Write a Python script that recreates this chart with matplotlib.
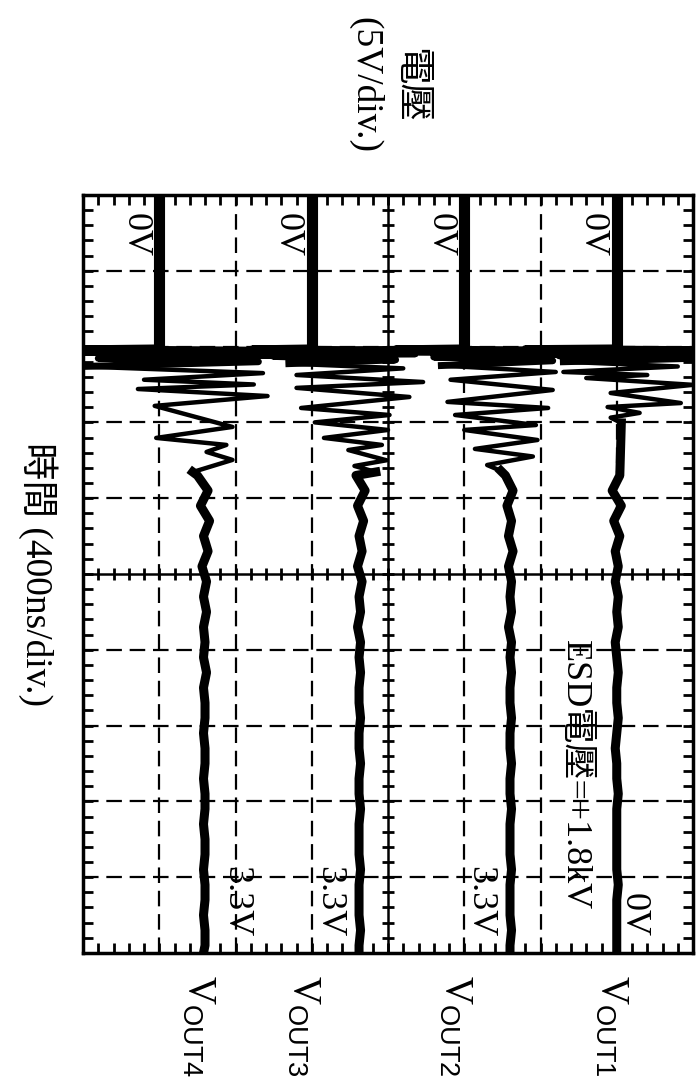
import numpy as np
import matplotlib.pyplot as plt
import matplotlib.transforms as mtransforms
from matplotlib.ticker import MultipleLocator

plt.rcParams['font.family'] = ['Liberation Serif', 'Noto Sans CJK TC']
plt.rcParams['mathtext.fontset'] = 'custom'
plt.rcParams['mathtext.rm'] = 'Liberation Serif'
plt.rcParams['mathtext.sf'] = 'Liberation Sans'

# scope: 5 V/div (8 div), 400 ns/div (10 div); screen drawn rotated 90 deg
volt_div = 5
time_div = 400

channels = ['OUT1', 'OUT2', 'OUT3', 'OUT4']
zero_level = [15, 5, -5, -15]          # screen position of each channel's 0 V
end_labels = ['0V', '3.3V', '3.3V', '3.3V']
trigger_t = 807

# ringing right after the ESD zap (t in ns, v in V relative to channel 0 V)
ring_t1 = [807, 811, 816, 824, 835, 848, 862, 880, 905, 934, 950, 966, 1002,
           1045, 1098, 1119, 1150, 1175, 1203]
ring_v1 = [0, -6.0, 5.0, -5.5, 5.0, -3.8, 5.0, -3.5, 4.0, -3.5, 2.0, -2.0, 5.0,
           -0.4, 4.2, -0.6, 1.5, -0.4, 0.3]

ring_t2 = [807, 812, 819, 828, 840, 855, 875, 900, 934, 975, 1029, 1092, 1124,
           1161, 1214, 1240, 1293, 1340, 1380, 1425, 1456]
ring_v2 = [0, -4.5, 6.5, -3.0, 6.2, -2.0, 5.8, -1.5, 6.0, -0.9, 5.8, -1.1, 5.5,
           -0.6, 4.7, 0.0, 4.8, 0.7, 4.5, 1.5, 2.4]

ring_t3 = [807, 812, 818, 826, 838, 852, 870, 890, 915, 950, 987, 1018, 1066,
           1124, 1161, 1200, 1240, 1282, 1319, 1346, 1400, 1430, 1462]
ring_v3 = [0, -3.9, 5.2, -3.0, 6.8, -2.5, 5.5, -1.5, 6.0, -1.0, 7.3, -1.0, 6.4,
           -0.7, 5.1, 0.2, 5.0, 0.8, 4.6, 2.4, 4.9, 2.8, 4.2]

ring_t4 = [807, 812, 820, 830, 845, 862, 880, 905, 940, 975, 1000, 1024, 1061,
           1113, 1224, 1282, 1319, 1356, 1398, 1462]
ring_v4 = [0, -5.2, 7.8, -5.0, 7.7, -4.0, 6.5, -5.1, 6.8, -1.0, 6.2, -1.4, 7.1,
           -0.3, 4.8, -0.2, 4.4, 3.1, 4.8, 2.2]

# settled part
steady_t = [1480, 1560, 1640, 1720, 1800, 1880, 1960, 2040, 2120, 2200, 2280,
            2360, 2440, 2520, 2600, 2680, 2760, 2840, 2920, 3000, 3080, 3160,
            3240, 3320, 3400, 3480, 3560, 3640, 3720, 3800, 3880, 3960, 4000]
steady_v1 = [0.2, -0.3, 0.3, -0.2, 0.2, -0.1, 0.1, -0.1, 0.1, 0.0, 0.1,
             -0.1, 0.0, 0.1, 0.0, 0.0, 0.1, 0.0, -0.1, 0.0, 0.0, 0.1,
             0.0, 0.0, 0.0, 0.0, 0.0, 0.1, 0.0, 0.0, 0.0, 0.0, 0.0]
steady_v2 = [2.7, 3.2, 2.8, 3.1, 2.9, 3.2, 2.9, 3.1, 3.0, 3.1, 2.9,
             3.1, 3.0, 3.1, 3.0, 3.0, 3.1, 3.0, 3.0, 3.1, 3.0, 3.0,
             3.1, 3.0, 3.0, 3.0, 3.1, 3.0, 3.0, 3.0, 3.1, 3.0, 3.0]
steady_v3 = [2.9, 3.5, 3.0, 3.4, 3.1, 3.3, 3.0, 3.3, 3.1, 3.2, 3.0,
             3.2, 3.1, 3.2, 3.1, 3.1, 3.2, 3.1, 3.1, 3.2, 3.1, 3.1,
             3.2, 3.1, 3.1, 3.1, 3.2, 3.1, 3.1, 3.1, 3.2, 3.1, 3.1]
steady_v4 = [2.5, 3.2, 2.7, 3.3, 2.9, 3.2, 2.8, 3.1, 2.9, 3.1, 2.9,
             3.0, 2.9, 3.1, 2.9, 3.0, 3.0, 2.9, 3.0, 3.0, 2.9, 3.0,
             3.0, 2.9, 3.0, 3.0, 2.9, 3.0, 3.0, 2.9, 3.0, 3.0, 2.9]

ring_t = [ring_t1, ring_t2, ring_t3, ring_t4]
ring_v = [ring_v1, ring_v2, ring_v3, ring_v4]
steady_v = [steady_v1, steady_v2, steady_v3, steady_v4]

fig = plt.figure(figsize=(7, 10.88), dpi=100)
ax = fig.add_axes([0.1186, 0.1241, 0.8714, 0.6967])
ax.set_xlim(-4 * volt_div, 4 * volt_div)
ax.set_ylim(10 * time_div, 0)

# graticule
dash = (0, (7, 3.5))
for i in range(-3, 4):
    if i == 0:
        ax.axvline(0, color='k', lw=1.8, zorder=1)
    else:
        ax.axvline(i * volt_div, color='k', lw=1.6, ls=dash, zorder=1)
for j in range(1, 10):
    if j == 5:
        ax.axhline(j * time_div, color='k', lw=1.8, zorder=1)
    else:
        ax.axhline(j * time_div, color='k', lw=1.6, ls=dash, zorder=1)

mx = np.arange(-4 * volt_div, 4 * volt_div + 0.1, 1)
ax.plot(mx, np.full(len(mx), 5 * time_div), ls='none', marker='|', ms=9,
        mew=2, color='k', zorder=1)
my = np.arange(0, 10 * time_div + 1, time_div / 5)
ax.plot(np.zeros(len(my)), my, ls='none', marker='_', ms=9, mew=2,
        color='k', zorder=1)

ax.xaxis.set_major_locator(MultipleLocator(1))
ax.yaxis.set_major_locator(MultipleLocator(time_div / 5))
ax.tick_params(which='both', direction='in', top=True, right=True, length=7,
               width=2, labelbottom=False, labelleft=False)
for s in ax.spines.values():
    s.set_linewidth(2.5)

# traces
for k in range(4):
    z = zero_level[k]
    rv = z + np.array(ring_v[k])
    ax.plot([z, z], [0, trigger_t], color='k', lw=8, solid_capstyle='butt', zorder=3)
    ax.plot(rv, ring_t[k], color='k', lw=3.2, zorder=3)
    ax.plot(rv[:8], ring_t[k][:8], color='k', lw=5, zorder=3)
    ax.plot(z + np.array([ring_v[k][-1]] + steady_v[k]), [ring_t[k][-1]] + steady_t,
            color='k', lw=6.5, zorder=3)
    ax.text(z - 1.6, 211, '0V', rotation=270, ha='center', va='center', fontsize=26)

end_dx = [1.1, 1.0, 1.1, 5.0]
end_t = [3915, 3915, 3915, 3915]
for k in range(4):
    ax.text(zero_level[k] + end_dx[k], end_t[k], end_labels[k], rotation=270,
            ha='center', va='bottom', fontsize=26)

ax.text(12.2, 3060, 'ESD電壓=+1.8kV', rotation=270, ha='center', va='center',
        fontsize=26)

trans = mtransforms.blended_transform_factory(ax.transData, ax.transAxes)
name_x = [14.6, 4.4, -5.6, -12.5]
for k in range(4):
    ax.text(name_x[k], -0.029, r'$\mathrm{V}_{\mathsf{%s}}$' % channels[k],
            transform=trans, rotation=270, ha='center', va='top', fontsize=28)

fig.text(387 / 700, 1 - 85 / 1088, '電壓\n(5V/div.)', rotation=270, ha='center',
         va='center', fontsize=27, multialignment='center', linespacing=1.35)
fig.text(38 / 700, 1 - 574 / 1088, '時間 (400ns/div.)', rotation=270,
         ha='center', va='center', fontsize=27)

fig.savefig('out.png', dpi=100)
